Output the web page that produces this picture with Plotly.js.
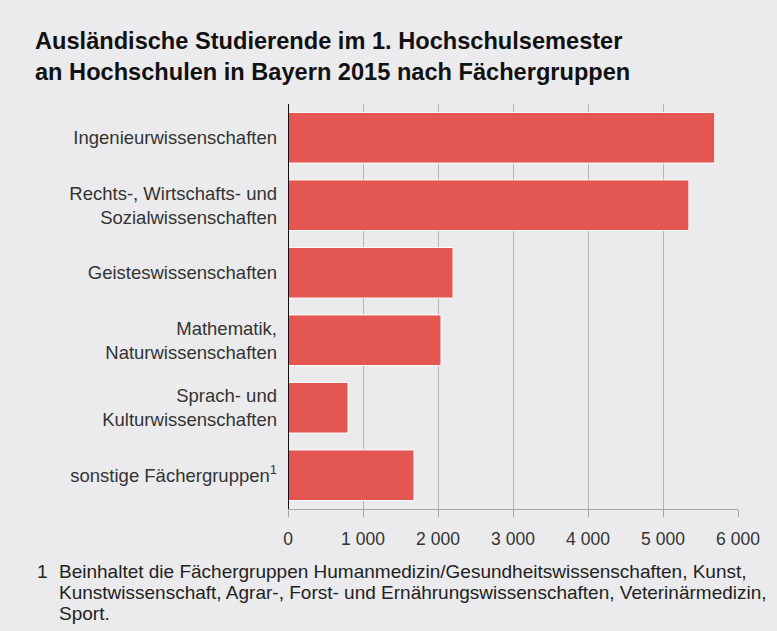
<!DOCTYPE html>
<html><head><meta charset="utf-8">
<script src="https://cdn.plot.ly/plotly-3.0.1.min.js"></script>
<style>html,body{margin:0;padding:0;background:#ebebed;}</style>
</head><body>
<div id="chart" style="width:777px;height:631px;"></div>
<script>
const categories = [
  "Ingenieurwissenschaften",
  "Rechts-, Wirtschafts- und<br>Sozialwissenschaften",
  "Geisteswissenschaften",
  "Mathematik,<br>Naturwissenschaften",
  "Sprach- und<br>Kulturwissenschaften",
  "sonstige Fächergruppen<sup>1</sup>"
];
const values = [5690, 5345, 2200, 2040, 800, 1680];
const xTicks = [0, 1000, 2000, 3000, 4000, 5000, 6000];
const titleText = "<b>Ausländische Studierende im 1. Hochschulsemester<br>an Hochschulen in Bayern 2015 nach Fächergruppen</b>";
const footnoteMark = "1";
const footnoteLines = [
  "Beinhaltet die Fächergruppen Humanmedizin/Gesundheitswissenschaften, Kunst,",
  "Kunstwissenschaft, Agrar-, Forst- und Ernährungswissenschaften, Veterinärmedizin,",
  "Sport."
];

const font = "'Liberation Sans', Arial, Helvetica, sans-serif";
const data = [{
  type: 'bar',
  orientation: 'h',
  x: values,
  y: categories,
  marker: {color: '#e35651', line: {color: '#ffffff', width: 1}},
  hoverinfo: 'x+y'
}];
// plot area in pixels: x 288..738, y 104..509
const plotTop = 104, plotH = 405, plotL = 288, plotW = 450;
const pyToPaper = py => (plotTop + plotH - py) / plotH;
const pxToPaper = px => (px - plotL) / plotW;
const footSize = 19;
const annotations = [
  {text: footnoteMark, xref: 'paper', yref: 'paper', x: pxToPaper(35), y: pyToPaper(571),
   xanchor: 'left', yanchor: 'middle', showarrow: false, align: 'left',
   font: {size: footSize, color: '#222'}}
];
footnoteLines.forEach((t, i) => annotations.push({
  text: t, xref: 'paper', yref: 'paper', x: pxToPaper(57), y: pyToPaper(571 + 21 * i),
  xanchor: 'left', yanchor: 'middle', showarrow: false, align: 'left',
  font: {size: footSize, color: '#222'}
}));
const layout = {
  width: 777, height: 631,
  paper_bgcolor: '#ebebed', plot_bgcolor: '#ebebed',
  separators: ', ',
  font: {family: font, color: '#222', size: 17},
  margin: {l: 288, r: 39, t: 104, b: 122},
  bargap: 0.25,
  showlegend: false,
  title: {
    text: titleText,
    font: {family: font, size: 23.6, color: '#111'},
    x: 35/777, xanchor: 'left', xref: 'container',
    y: 1 - 49/631, yanchor: 'top', yref: 'container'
  },
  xaxis: {
    range: [0, 6000],
    tickvals: xTicks,
    tickformat: ',d',
    showgrid: true, gridcolor: '#b4b4b4', gridwidth: 1,
    showline: true, linecolor: '#a8a8a8', linewidth: 1,
    ticks: 'outside', ticklen: 7, tickcolor: '#a8a8a8', tickwidth: 1,
    ticklabelstandoff: 7,
    tickfont: {size: 17.5, color: '#333'},
    zeroline: false,
    fixedrange: true
  },
  yaxis: {
    autorange: 'reversed',
    type: 'category',
    showgrid: false,
    showline: false,
    zeroline: false,
    ticks: '',
    ticklabelstandoff: 10,
    tickfont: {size: 18.5, color: '#333'},
    fixedrange: true
  },
  shapes: [{
    type: 'line', xref: 'x', yref: 'paper', x0: 0, x1: 0, y0: 0, y1: 1,
    line: {color: '#111', width: 2}
  }],
  annotations: annotations
};
Plotly.newPlot('chart', data, layout, {displayModeBar: false, staticPlot: true});
</script>
</body></html>
